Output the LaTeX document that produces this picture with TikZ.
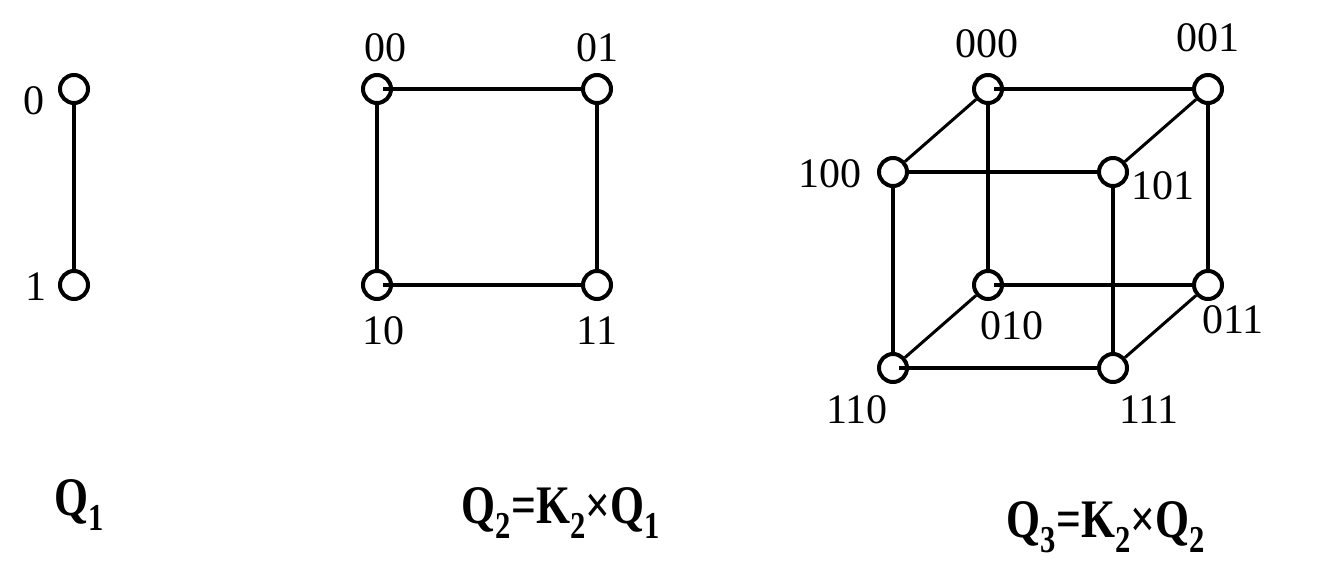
\documentclass[tikz,border=0pt]{standalone}
\usepackage{fontspec}
\setmainfont{Liberation Serif}
\begin{document}
\begin{tikzpicture}[x=1pt,y=-1pt,
  vtx/.style={circle,draw,line width=4pt,minimum size=28pt,inner sep=0pt},
  edg/.style={line width=4pt},
  dia/.style={line width=3pt},
  hin/.style={line width=4pt,shorten <=6pt},
  lab/.style={font=\fontsize{42}{46}\selectfont,inner sep=0pt},
  title/.style={font=\fontsize{46}{50}\selectfont\bfseries,inner sep=0pt,yscale=1.18,xscale=0.95}]
\useasboundingbox (0,0) rectangle (1336,586);
% Q1
\node[vtx] (q0) at (74,89) {};
\node[vtx] (q1) at (74,285) {};
\draw[edg] (q0) -- (q1);
\node[lab] (l0) at (34,101) {0};
\node[lab] (l1) at (36,287) {1};
\node[title] (t1) at (79,505) {Q\textsubscript{1}};
% Q2
\node[vtx] (a00) at (377,89) {};
\node[vtx] (a01) at (597,89) {};
\node[vtx] (a10) at (377,285) {};
\node[vtx] (a11) at (597,285) {};
\draw[hin] (a00.center) -- (a01);
\draw[hin] (a10.center) -- (a11);
\draw[edg] (a00) -- (a10);
\draw[edg] (a01) -- (a11);
\node[lab] (la00) at (385,48) {00};
\node[lab] (la01) at (597,48) {01};
\node[lab] (la10) at (383,331) {10};
\node[lab] (la11) at (597,331) {11};
\node[title] (t2) at (561,513) {Q\textsubscript{2}=K\textsubscript{2}×Q\textsubscript{1}};
% Q3
\node[vtx] (b000) at (988,89) {};
\node[vtx] (b001) at (1208,89) {};
\node[vtx] (b100) at (893,172) {};
\node[vtx] (b101) at (1113,172) {};
\node[vtx] (b010) at (988,285) {};
\node[vtx] (b011) at (1208,285) {};
\node[vtx] (b110) at (893,368) {};
\node[vtx] (b111) at (1113,368) {};
\draw[hin] (b000.center) -- (b001);
\draw[edg] (b100) -- (b101);
\draw[hin] (b010.center) -- (b011);
\draw[hin] (b110.center) -- (b111);
\draw[edg] (b000) -- (b010);
\draw[edg] (b001) -- (b011);
\draw[edg] (b100) -- (b110);
\draw[edg] (b101) -- (b111);
\draw[dia] (b000) -- (b100);
\draw[dia] (b001) -- (b101);
\draw[dia] (b010) -- (b110);
\draw[dia] (b011) -- (b111);
\node[lab] (lb000) at (987,44) {000};
\node[lab] (lb001) at (1208,38) {001};
\node[lab] (lb100) at (830,174) {100};
\node[lab] (lb101) at (1163,186) {101};
\node[lab] (lb010) at (1012,326) {010};
\node[lab] (lb011) at (1233,320) {011};
\node[lab] (lb110) at (857,410) {110};
\node[lab] (lb111) at (1149,410) {111};
\node[title] (t3) at (1106,527) {Q\textsubscript{3}=K\textsubscript{2}×Q\textsubscript{2}};
\end{tikzpicture}
\end{document}
